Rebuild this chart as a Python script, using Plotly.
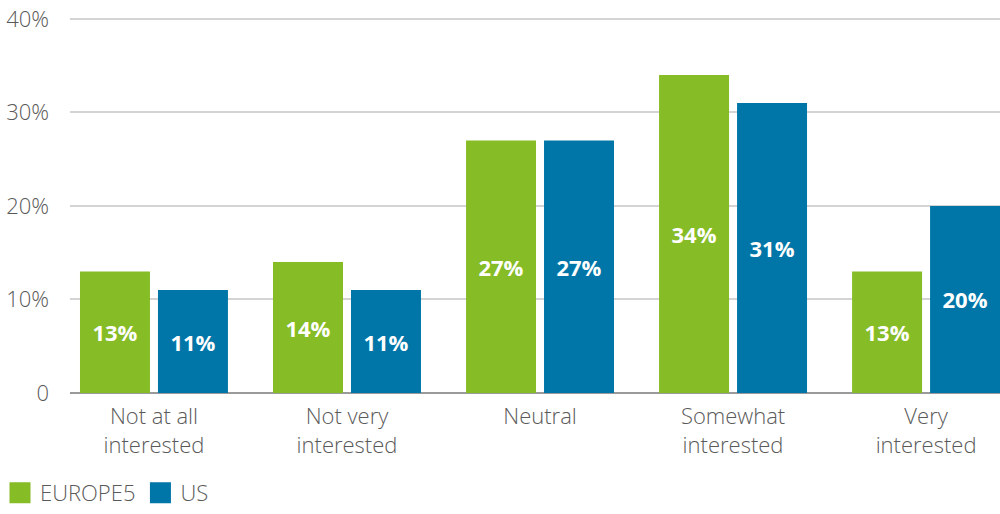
import plotly.graph_objects as go

categories = ["Not at all<br>interested", "Not very<br>interested", "Neutral", "Somewhat<br>interested", "Very<br>interested"]
europe5 = [13, 14, 27, 34, 13]
us = [11, 11, 27, 31, 20]
tick_vals = [0, 10, 20, 30, 40]
tick_text = ["0", "10%", "20%", "30%", "40%"]

GREEN = "#86BC25"
BLUE = "#0076A8"
FONT = "Open Sans"
TXT = "#5a5a5a"

fig = go.Figure()
for name, vals, col in [("EUROPE5", europe5, GREEN), ("US", us, BLUE)]:
    fig.add_trace(go.Bar(
        x=list(range(len(categories))), y=vals, name=name, marker_color=col,
        marker_line_width=0, showlegend=False,
        text=[f"{v}%" for v in vals], textposition="inside", insidetextanchor="middle",
        textfont=dict(family=FONT, size=22, color="white", weight="bold"),
        constraintext="none", hoverinfo="skip",
    ))
    fig.add_trace(go.Scatter(
        x=[None], y=[None], mode="markers", name=name,
        marker=dict(symbol="square", size=16, color=col, line=dict(color=col, width=5)),
    ))

fig.update_layout(
    width=1000, height=514,
    margin=dict(l=70, r=0, t=17, b=121),
    paper_bgcolor="white", plot_bgcolor="white",
    barmode="group", bargap=0.192, bargroupgap=0.1026,
    font=dict(family=FONT, size=22, color=TXT, weight=300),
    legend=dict(orientation="h", xref="container", yref="container", x=0, y=0,
                xanchor="left", yanchor="bottom",
                font=dict(family=FONT, size=22, color=TXT, weight=300),
                itemsizing="trace", itemwidth=30, traceorder="normal"),
    uniformtext=dict(mode=False),
)
fig.update_xaxes(
    tickvals=list(range(len(categories))), ticktext=categories,
    range=[-0.435, 4.383], showgrid=False, zeroline=False,
    showline=False, ticks="", ticklabelstandoff=8,
    tickfont=dict(family=FONT, size=22, color=TXT, weight=300),
)
fig.update_yaxes(
    range=[0, 40.2], tickvals=tick_vals, ticktext=tick_text,
    showgrid=True, gridcolor="#d4d4d4", gridwidth=1.5,
    zeroline=True, zerolinecolor="#9a9a9a", zerolinewidth=1.5,
    ticks="", ticklabelstandoff=20,
    tickfont=dict(family=FONT, size=22, color=TXT, weight=300),
)
fig.write_html("out.html", config={"displayModeBar": False},
               post_script="document.body.style.margin='0';")
